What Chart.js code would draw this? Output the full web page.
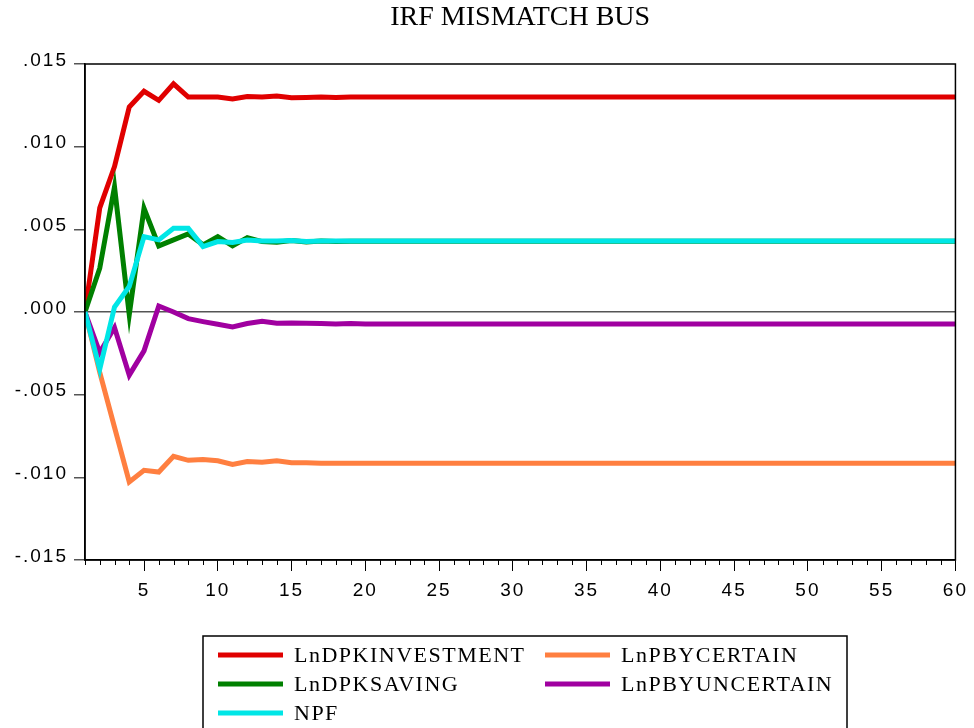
<!DOCTYPE html>
<html>
<head>
<meta charset="utf-8">
<title>IRF MISMATCH BUS</title>
<script src="https://cdn.jsdelivr.net/npm/chart.js@4.4.1/dist/chart.umd.min.js"></script>
<style>
  html, body { margin: 0; padding: 0; background: #fff; }
  #wrap { width: 974px; height: 728px; position: relative; }
</style>
</head>
<body>
<div id="wrap"><canvas id="chart"></canvas></div>
<script>
// periods 1..60
const periods = [1,2,3,4,5,6,7,8,9,10,11,12,13,14,15,16,17,18,19,20,
  21,22,23,24,25,26,27,28,29,30,31,32,33,34,35,36,37,38,39,40,
  41,42,43,44,45,46,47,48,49,50,51,52,53,54,55,56,57,58,59,60]

const lnDpkInvestment = [0, 0.0063, 0.0088, 0.0124, 0.01335, 0.0128, 0.0138, 0.0130, 0.0130, 0.0130,
  0.01288, 0.01303, 0.0130, 0.01306, 0.01296, 0.01298, 0.0130, 0.01298, 0.0130, 0.0130,
  0.0130, 0.0130, 0.0130, 0.0130, 0.0130, 0.0130, 0.0130, 0.0130, 0.0130, 0.0130,
  0.0130, 0.0130, 0.0130, 0.0130, 0.0130, 0.0130, 0.0130, 0.0130, 0.0130, 0.0130,
  0.0130, 0.0130, 0.0130, 0.0130, 0.0130, 0.0130, 0.0130, 0.0130, 0.0130, 0.0130,
  0.0130, 0.0130, 0.0130, 0.0130, 0.0130, 0.0130, 0.0130, 0.0130, 0.0130, 0.0130]

const lnPbyCertain = [0, -0.00365, -0.00697, -0.01028, -0.00958, -0.00968, -0.00873, -0.00897, -0.00892, -0.0090,
  -0.00922, -0.00904, -0.00908, -0.0090, -0.00912, -0.00912, -0.00915, -0.00915, -0.00915, -0.00915,
  -0.00915, -0.00915, -0.00915, -0.00915, -0.00915, -0.00915, -0.00915, -0.00915, -0.00915, -0.00915,
  -0.00915, -0.00915, -0.00915, -0.00915, -0.00915, -0.00915, -0.00915, -0.00915, -0.00915, -0.00915,
  -0.00915, -0.00915, -0.00915, -0.00915, -0.00915, -0.00915, -0.00915, -0.00915, -0.00915, -0.00915,
  -0.00915, -0.00915, -0.00915, -0.00915, -0.00915, -0.00915, -0.00915, -0.00915, -0.00915, -0.00915]

const lnDpkSaving = [0, 0.00265, 0.00757, -0.00016, 0.00627, 0.0040, 0.00436, 0.00472, 0.00406, 0.00456,
  0.0040, 0.0045, 0.00426, 0.00422, 0.00432, 0.00424, 0.0043, 0.00427, 0.00428, 0.00428,
  0.00428, 0.00428, 0.00428, 0.00428, 0.00428, 0.00428, 0.00428, 0.00428, 0.00428, 0.00428,
  0.00428, 0.00428, 0.00428, 0.00428, 0.00428, 0.00428, 0.00428, 0.00428, 0.00428, 0.00428,
  0.00428, 0.00428, 0.00428, 0.00428, 0.00428, 0.00428, 0.00428, 0.00428, 0.00428, 0.00428,
  0.00428, 0.00428, 0.00428, 0.00428, 0.00428, 0.00428, 0.00428, 0.00428, 0.00428, 0.00428]

const lnPbyUncertain = [0, -0.00245, -0.00094, -0.00382, -0.00235, 0.00036, 0, -0.0004, -0.00058, -0.00074,
  -0.0009, -0.0007, -0.00056, -0.00068, -0.00066, -0.00068, -0.0007, -0.00072, -0.0007, -0.00072,
  -0.00072, -0.00072, -0.00072, -0.00072, -0.00072, -0.00072, -0.00072, -0.00072, -0.00072, -0.00072,
  -0.00072, -0.00072, -0.00072, -0.00072, -0.00072, -0.00072, -0.00072, -0.00072, -0.00072, -0.00072,
  -0.00072, -0.00072, -0.00072, -0.00072, -0.00072, -0.00072, -0.00072, -0.00072, -0.00072, -0.00072,
  -0.00072, -0.00072, -0.00072, -0.00072, -0.00072, -0.00072, -0.00072, -0.00072, -0.00072, -0.00072]

const npf = [0, -0.00345, 0.0003, 0.00155, 0.00456, 0.00436, 0.00506, 0.00506, 0.00396, 0.00426,
  0.0042, 0.00436, 0.0043, 0.0043, 0.00433, 0.00426, 0.0043, 0.0043, 0.0043, 0.0043,
  0.0043, 0.0043, 0.0043, 0.0043, 0.0043, 0.0043, 0.0043, 0.0043, 0.0043, 0.0043,
  0.0043, 0.0043, 0.0043, 0.0043, 0.0043, 0.0043, 0.0043, 0.0043, 0.0043, 0.0043,
  0.0043, 0.0043, 0.0043, 0.0043, 0.0043, 0.0043, 0.0043, 0.0043, 0.0043, 0.0043,
  0.0043, 0.0043, 0.0043, 0.0043, 0.0043, 0.0043, 0.0043, 0.0043, 0.0043, 0.0043]

const xMajorTicks = [5, 10, 15, 20, 25, 30, 35, 40, 45, 50, 55, 60]

const serif = '"Liberation Serif", "Times New Roman", serif'
const sans = '"Liberation Sans", Arial, sans-serif'

function line(label, data, color, order) {
  return {
    label: label,
    data: data,
    borderColor: color,
    backgroundColor: color,
    borderWidth: 5,
    pointRadius: 0,
    tension: 0,
    fill: false,
    order: order
  }
}

// a little extra tick label spacing (tick labels are drawn after the datasets, z: 1)
const spacingPlugin = {
  id: 'spacing',
  afterDatasetsDraw(chart) { chart.ctx.letterSpacing = '2px' },
  afterDraw(chart) { chart.ctx.letterSpacing = '0px' }
}

// frame around plot + minor ticks on the x axis
const framePlugin = {
  id: 'frame',
  afterDraw(chart) {
    const ctx = chart.ctx
    const a = chart.chartArea
    const x = chart.scales.x
    ctx.save()
    ctx.strokeStyle = '#000'
    ctx.lineWidth = 1.5
    ctx.strokeRect(a.left, a.top, a.right - a.left, a.bottom - a.top)
    ctx.lineWidth = 1
    ctx.beginPath()
    periods.forEach(p => {
      if (p % 5 === 0) return
      const px = Math.round(x.getPixelForValue(p)) + 0.5
      ctx.moveTo(px, a.bottom)
      ctx.lineTo(px, a.bottom + 5)
    })
    ctx.stroke()
    ctx.restore()
  }
}

// boxed two-column legend like the original
const legendPlugin = {
  id: 'boxLegend',
  afterDraw(chart) {
    const ctx = chart.ctx
    ctx.save()
    ctx.strokeStyle = '#000'
    ctx.lineWidth = 1.5
    ctx.strokeRect(203, 636, 644, 110)
    ctx.font = '22px ' + serif
    ctx.letterSpacing = '1.5px'
    ctx.textBaseline = 'middle'
    ctx.fillStyle = '#000'
    chart.data.datasets.forEach((ds, i) => {
      const col = i % 2
      const row = Math.floor(i / 2)
      const lx = col === 0 ? 218 : 545
      const ly = 655 + row * 29
      ctx.strokeStyle = ds.borderColor
      ctx.lineWidth = 5
      ctx.beginPath()
      ctx.moveTo(lx, ly)
      ctx.lineTo(lx + 65, ly)
      ctx.stroke()
      ctx.fillText(ds.label, lx + 76, ly + 1)
    })
    ctx.restore()
  }
}

const chart = new Chart(document.getElementById('chart').getContext('2d'), {
  type: 'line',
  data: {
    labels: periods,
    datasets: [
      line('LnDPKINVESTMENT', lnDpkInvestment, '#e00000', 5),
      line('LnPBYCERTAIN', lnPbyCertain, '#ff7f40', 4),
      line('LnDPKSAVING', lnDpkSaving, '#008000', 3),
      line('LnPBYUNCERTAIN', lnPbyUncertain, '#a000a0', 2),
      line('NPF', npf, '#00e6e6', 1)
    ]
  },
  options: {
    responsive: true,
    maintainAspectRatio: false,
    animation: false,
    layout: { padding: { left: 0, right: 16, top: 1.2, bottom: 128 } },
    plugins: {
      legend: { display: false },
      tooltip: { enabled: false },
      title: {
        display: true,
        fullSize: false,
        text: 'IRF MISMATCH BUS',
        color: '#000',
        font: { family: serif, size: 28, weight: 'normal', lineHeight: 1.2 },
        padding: { top: 0, bottom: 29.2 }
      }
    },
    scales: {
      x: {
        type: 'linear',
        min: 1,
        max: 60,
        afterBuildTicks: s => { s.ticks = xMajorTicks.map(v => ({ value: v })) },
        afterFit: s => { s.height = 40 },
        grid: { drawOnChartArea: false, tickLength: 11, tickColor: '#000', tickWidth: 1 },
        border: { display: true, color: '#000', width: 1.5 },
        ticks: { z: 1, color: '#000', font: { family: sans, size: 19 }, padding: 8, maxRotation: 0, autoSkip: false }
      },
      y: {
        min: -0.015,
        max: 0.015,
        afterFit: s => { s.width = 85 },
        grid: {
          color: c => (c.tick && Math.abs(c.tick.value) < 1e-9) ? '#555' : 'rgba(0,0,0,0)',
          lineWidth: 1.5,
          tickLength: 11,
          tickColor: '#555',
          tickWidth: 1.5
        },
        border: { display: true, color: '#000', width: 1.5 },
        ticks: {
          z: 1,
          stepSize: 0.005,
          color: '#000',
          font: { family: sans, size: 19 },
          padding: 6,
          labelOffset: -3.5,
          callback: v => v.toFixed(3).replace('0.', '.')
        }
      }
    }
  },
  plugins: [spacingPlugin, framePlugin, legendPlugin]
})
</script>
</body>
</html>
